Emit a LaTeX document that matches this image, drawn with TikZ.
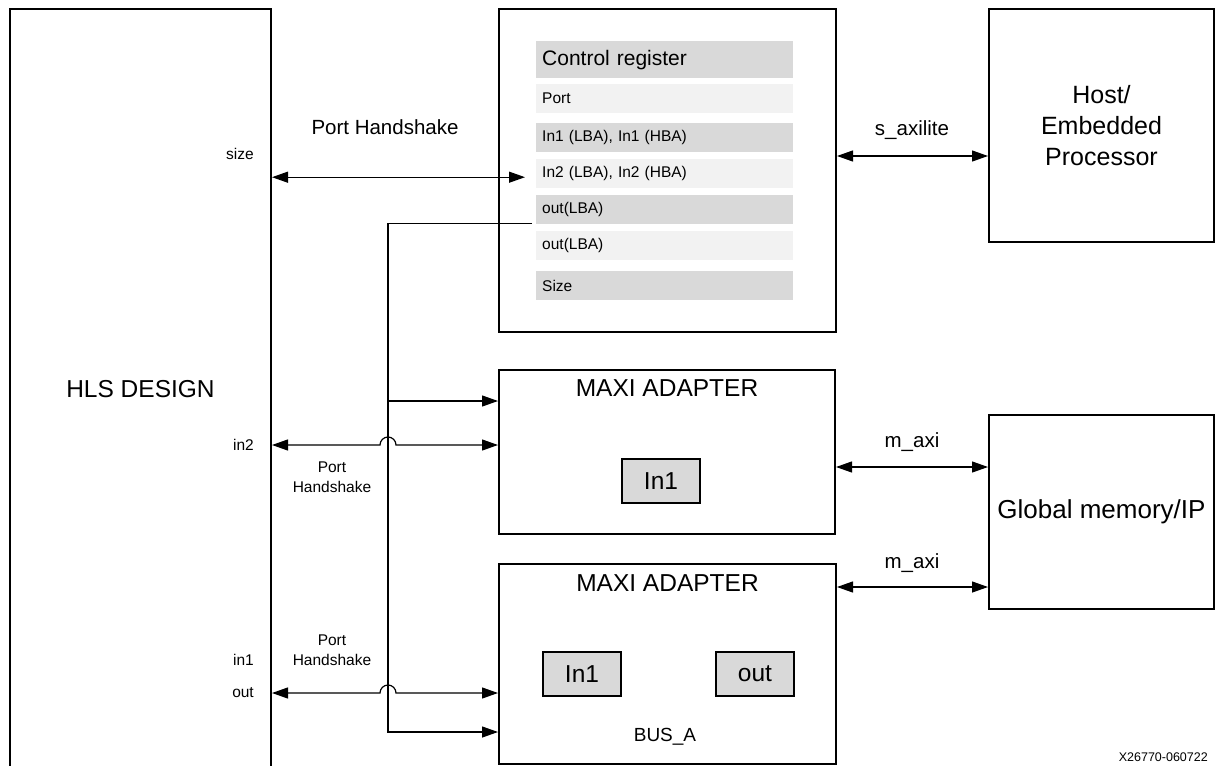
\documentclass[tikz,border=0pt]{standalone}
\usepackage{fontspec}
\setmainfont{Liberation Sans}
\usetikzlibrary{positioning,arrows.meta}
\definecolor{regdark}{RGB}{217,217,217}
\definecolor{reglight}{RGB}{242,242,242}
\newcommand{\boxfont}{\fontsize{24.5}{31}\selectfont}
\newcommand{\hostfont}{\fontsize{25}{31}\selectfont}
\newcommand{\globfont}{\fontsize{26}{31}\selectfont}
\newcommand{\titlefont}{\fontsize{21}{25}\selectfont}
\newcommand{\regfont}{\fontsize{15.5}{19}\selectfont}
\newcommand{\lblfont}{\fontsize{20.5}{24}\selectfont}
\newcommand{\smlfont}{\fontsize{15.5}{20.5}\selectfont}
\newcommand{\busfont}{\fontsize{19}{23}\selectfont}
\newcommand{\notefont}{\fontsize{12.5}{15}\selectfont}

\begin{document}
\begin{tikzpicture}[
  x=1pt, y=-1pt,
  box/.style={draw, line width=2pt, anchor=north west, inner sep=0pt,
              align=center, font=\boxfont},
  reg/.style={anchor=north west, minimum height=29pt, text width=245pt,
              inner xsep=6pt, inner ysep=0pt, align=left, font=\regfont},
  dark/.style={reg, fill=regdark},
  light/.style={reg, fill=reglight},
  cell/.style={draw, line width=2pt, fill=regdark, minimum width=78pt,
               minimum height=44pt, inner sep=0pt, font=\boxfont},
  lbl/.style={inner sep=0pt, font=\lblfont},
  sml/.style={inner sep=0pt, align=center, font=\smlfont},
  conn/.style={line width=1.2pt},
  arr/.style={conn, -{Triangle[length=16pt,width=11pt]}},
  dbl/.style={conn, {Triangle[length=16pt,width=11pt]}-{Triangle[length=16pt,width=11pt]}}
]
\useasboundingbox (0,0) rectangle (1217,765);
% blocks
\node[box, minimum width=261pt, minimum height=760pt] (hls) at (9,8) {HLS DESIGN};
\node[box, minimum width=337pt, minimum height=323pt] (ctrl) at (498,8) {};
\node[box, minimum width=225pt, minimum height=233pt, font=\hostfont] (host)
  at (988,8) {Host/\\Embedded\\Processor};
\node[box, minimum width=225pt, minimum height=194pt, font=\globfont] (gmem)
  at (988,414) {Global memory/IP};
\node[box, minimum width=336pt, minimum height=164pt] (maxi1) at (498,369) {};
\node[box, minimum width=337pt, minimum height=200pt] (maxi2) at (498,563) {};
% control register rows
\node[dark, minimum height=37pt, font=\titlefont] (rtitle) at (536,41) {Control register};
\node[light] (rport) at (536,84) {Port};
\node[dark] (rin1) at (536,123) {In1 (LBA), In1 (HBA)};
\node[light] (rin2) at (536,159) {In2 (LBA), In2 (HBA)};
\node[dark] (routa) at (536,195) {out(LBA)};
\node[light] (routb) at (536,231) {out(LBA)};
\node[dark] (rsize) at (536,271) {Size};
% adapters
\node[font=\boxfont] (tmaxi1) at ([yshift=-19pt]maxi1.north) {MAXI ADAPTER};
\node[font=\boxfont] (tmaxi2) at ([yshift=-20pt]maxi2.north) {MAXI ADAPTER};
\node[cell] (bufa) at (661,481) {In1};
\node[cell] (bufb) at (582,674) {In1};
\node[cell] (bufc) at (755,674) {out};
\node[font=\busfont] (busa) at (665,737) {BUS\_A};
% ports
\node[sml, anchor=east] (psize) at (254,154) {size};
\node[sml, anchor=east] (pin2) at (254,445) {in2};
\node[sml, anchor=east] (pin1) at (254,660) {in1};
\node[sml, anchor=east] (pout) at (254,693) {out};
\node[lbl] (hs0) at (385,127) {Port Handshake};
\node[sml] (hs1) at (332,477) {Port\\Handshake};
\node[sml] (hs2) at (332,650) {Port\\Handshake};
\node[lbl] (lsax) at (912,130) {s\_axilite};
\node[lbl] (lmax1) at (912,442) {m\_axi};
\node[lbl] (lmax2) at (912,563) {m\_axi};
\node[inner sep=0pt, anchor=east, font=\notefont] (fig) at (1208,757) {X26770-060722};
% connectors
\draw[dbl] ([yshift=-3.5pt]hls.east |- rin2.west) -- ([xshift=-11pt,yshift=-3.5pt]rin2.west);
\draw[dbl] (ctrl.east |- 0,156) -- (host.west |- 0,156);
\draw[dbl] (maxi1.east |- 0,467) -- (gmem.west |- 0,467);
\draw[dbl] (maxi2.east |- 0,587) -- (gmem.west |- 0,587);
\draw[arr] ([xshift=-4pt,yshift=1pt]routa.south west) -| (388,732) -- (maxi2.west |- 0,732);
\draw[arr] (388,401) -- (maxi1.west |- 0,401);
\draw[dbl] (hls.east |- 0,445) -- (380,445) arc[start angle=180, end angle=0, radius=8pt]
  -- (maxi1.west |- 0,445);
\draw[dbl] (hls.east |- 0,693) -- (380,693) arc[start angle=180, end angle=0, radius=8pt]
  -- (maxi2.west |- 0,693);
\end{tikzpicture}
\end{document}
